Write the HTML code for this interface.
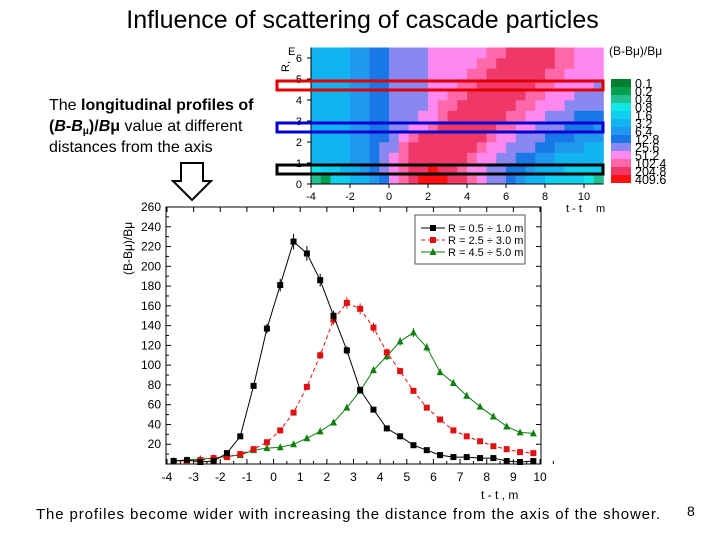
<!DOCTYPE html>
<html><head><meta charset="utf-8"><style>
body{margin:0;width:720px;height:540px;background:#fff;font-family:"Liberation Sans",sans-serif;overflow:hidden;position:relative}
.t{position:absolute;color:#000;white-space:nowrap}
sub{vertical-align:-3px;line-height:0}
</style></head><body>
<div class="t" style="left:0;width:725px;text-align:center;top:6px;font-size:25px">Influence of scattering of cascade particles</div>
<div class="t" style="left:49px;top:95px;font-size:16px;line-height:21px">The <b>longitudinal profiles of<br>(<i>B</i>-<i>B</i><sub style="font-size:10px">μ</sub>)/<i>B</i>μ</b> value at different<br>distances from the axis</div>
<div class="t" style="left:36px;top:506px;font-size:15px;letter-spacing:0.88px">The profiles become wider with increasing the distance from the axis of the shower.</div>
<div class="t" style="left:687px;top:503px;font-size:14px">8</div>
<svg width="720" height="540" style="position:absolute;left:0;top:0" id="svg" font-family="Liberation Sans, sans-serif">
<path d="M181,163 H203 V181 H211 L192,200 L173,181 H181 Z" fill="#fff" stroke="#000" stroke-width="2"/>
</svg>
<script>
const heatRows=["214455679abcccbba9887655444432","344556789abbcbba99887765554444","555566789abbbbbba9988776655555","555566788abbbbbbba998887766655","5555667789abbbbbbba99888777666","555566778899abbbbbbaa998887776","5555667788899abbbbbbaa99888777","5555667788889aabbbbbbaa9998888","55556677888899aabbbbbbaa999888","555566778888999aabbbbbbaa99998","5555667788889999aabbbbbbaa9999","55556677888899999aabbbbbbaa999","555566778888999999aabbbbbaa999"];
const levelLabels=["0.1","0.2","0.4","0.8","1.6","3.2","6.4","12.8","25.6","51.2","102.4","204.8","409.6"];
const levelColors=["#008030","#00a050","#20c090","#10e8e8","#10d0f0","#10b4f0","#2098f0","#1878e8","#8888f0","#ff88f0","#ff68a8","#f03868","#ff1010"];
const xs=[-3.75,-3.25,-2.75,-2.25,-1.75,-1.25,-0.75,-0.25,0.25,0.75,1.25,1.75,2.25,2.75,3.25,3.75,4.25,4.75,5.25,5.75,6.25,6.75,7.25,7.75,8.25,8.75,9.25,9.75];
const black=[3,4,2,3,11,28,79,137,181,225,213,186,150,115,75,55,36,28,19,14,9,7,7,6,6,3,2,3];
const red=[3,3,4,6,7,10,15,22,34,52,78,110,146,163,157,138,113,94,74,57,45,34,28,23,18,15,12,11];
const green=[3,4,5,6,8,9,14,16,17,20,26,33,42,57,74,95,109,124,133,118,93,82,69,58,48,38,32,31];
const xTicks=[-4,-3,-2,-1,0,1,2,3,4,5,6,7,8,9,10];
const yTicks=[20,40,60,80,100,120,140,160,180,200,220,240,260];
const hxTicks=[-4,-2,0,2,4,6,8,10];
const hyTicks=[0,1,2,3,4,5,6];
const svg=document.getElementById('svg');const NS='http://www.w3.org/2000/svg';
function el(tag,a,parent){const e=document.createElementNS(NS,tag);for(const k in a)e.setAttribute(k,a[k]);(parent||svg).appendChild(e);return e;}
const hx=t=>311+(t+4)*(584-311)/14, hy=r=>184-r*(184-58)/6;
const hg=el('g',{});


heatRows.forEach((row,ri)=>{for(let ci=0;ci<row.length;ci++){const t=-4+ci*0.5,r=ri*0.5;const c=el('rect',{x:hx(t),y:hy(r+0.5),width:hx(t+0.5)-hx(t)+0.3,height:hy(r)-hy(r+0.5)+0.3,fill:levelColors[parseInt(row[ci],16)]},hg);

}});
el('line',{x1:hx(-4),y1:hy(0),x2:hx(11),y2:hy(0),stroke:'#000'});
el('line',{x1:hx(-4),y1:hy(0),x2:hx(-4),y2:hy(6.5),stroke:'#000'});
hxTicks.forEach(v=>{el('line',{x1:hx(v),y1:hy(0),x2:hx(v),y2:hy(0)+4,stroke:'#000'});const t=el('text',{x:hx(v),y:200,'font-size':11,'text-anchor':'middle'});t.textContent=v;

});
hyTicks.forEach(v=>{el('line',{x1:hx(-4)-4,y1:hy(v),x2:hx(-4),y2:hy(v),stroke:'#000'});const t=el('text',{x:302,y:hy(v)+4,'font-size':11,'text-anchor':'end'});t.textContent=v;

});
let tt=el('text',{x:566,y:212,'font-size':11});tt.textContent='t - t';


tt=el('text',{x:596,y:212,'font-size':11});tt.textContent='m';
tt=el('text',{x:288,y:55,'font-size':11});tt.textContent='E';
tt=el('text',{x:289,y:72,'font-size':11,transform:'rotate(-90 289 72)'});tt.textContent='R,';


tt=el('text',{x:609,y:55,'font-size':12});tt.textContent='(B-Bμ)/Bμ';


levelColors.forEach((c,i)=>{const y=79+i*8;const r=el('rect',{x:611,y:y,width:20,height:8,fill:c});


const t=el('text',{x:635,y:y+9,'font-size':12.5});t.textContent=levelLabels[i];

});
[['#e00000',81,'red-highlight-box'],['#0000d0',123,'blue-highlight-box'],['#000',165,'black-highlight-box']].forEach(b=>{const r=el('rect',{x:277,y:b[1],width:326,height:9,fill:'none',stroke:b[0],'stroke-width':3});

});
const X=v=>167+(v+4)*(540-167)/14, Y=v=>464-v*(464-207)/260;
el('rect',{x:166,y:207,width:375,height:257,fill:'none',stroke:'#000','stroke-width':1});
xTicks.forEach(v=>{el('line',{x1:X(v),y1:464,x2:X(v),y2:459,stroke:'#000'});el('line',{x1:X(v),y1:207,x2:X(v),y2:212,stroke:'#000'});
el('line',{x1:X(v+0.5),y1:464,x2:X(v+0.5),y2:461,stroke:'#000'});
const t=el('text',{x:X(v),y:481,'font-size':12,'text-anchor':'middle'});t.textContent=v;

});
yTicks.forEach(v=>{el('line',{x1:166,y1:Y(v),x2:171,y2:Y(v),stroke:'#000'});el('line',{x1:541,y1:Y(v),x2:536,y2:Y(v),stroke:'#000'});el('line',{x1:166,y1:Y(v-10),x2:169,y2:Y(v-10),stroke:'#000'});
const t=el('text',{x:161,y:Y(v)+4,'font-size':12,'text-anchor':'end'});t.textContent=v;

});
tt=el('text',{x:481,y:499,'font-size':12});tt.textContent='t - t     , m';


tt=el('text',{x:132,y:275,'font-size':12,transform:'rotate(-90 132 275)'});tt.textContent='(B-Bμ)/Bμ';


function series(vals,color,dash,shape,name){const g=el('g',{});


el('polyline',{points:xs.map((x,i)=>X(x)+','+Y(vals[i])).join(' '),fill:'none',stroke:color,'stroke-width':1,'stroke-dasharray':dash},g);
xs.forEach((x,i)=>{const cx=X(x),cy=Y(vals[i]);const e=Math.max(1,vals[i]*0.035);
el('line',{x1:cx,y1:Y(vals[i]+e),x2:cx,y2:Y(vals[i]-e),stroke:color},g);
let m;if(shape==='sq')m=el('rect',{x:cx-3,y:cy-3,width:6,height:6,fill:color},g);else m=el('polygon',{points:`${cx},${cy-4} ${cx-3.5},${cy+3} ${cx+3.5},${cy+3}`,fill:color},g);

});}
series(green,'#108010','','tri','series-r-4.5-5.0');
series(red,'#e01010','4,3','sq','series-r-2.5-3.0');
series(black,'#000','','sq','series-r-0.5-1.0');
const lg=el('g',{});


el('rect',{x:415,y:215,width:110,height:49,fill:'#fff',stroke:'#555'},lg);
[['#000','','sq','R = 0.5 ÷ 1.0 m'],['#e01010','4,3','sq','R = 2.5 ÷ 3.0 m'],['#108010','','tri','R = 4.5 ÷ 5.0 m']].forEach((l,i)=>{const y=228+i*12;
el('line',{x1:421,y1:y,x2:445,y2:y,stroke:l[0],'stroke-dasharray':l[1]},lg);
if(l[2]==='sq')el('rect',{x:430,y:y-3,width:6,height:6,fill:l[0]},lg);else el('polygon',{points:`433,${y-4} 429.5,${y+3} 436.5,${y+3}`,fill:l[0]},lg);
const t=el('text',{x:448,y:y+4,'font-size':11},lg);t.textContent=l[3];

});
</script>
</body></html>
